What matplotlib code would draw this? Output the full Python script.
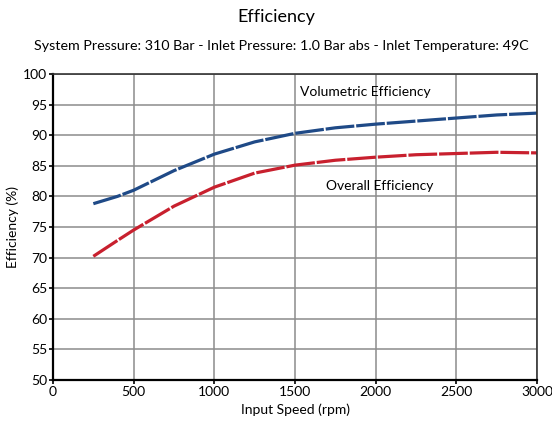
import matplotlib.pyplot as plt

plt.rcParams['font.family'] = ['Lato', 'DejaVu Sans']

speed = [250, 400, 500, 750, 1000, 1250, 1500, 1750, 2000, 2250, 2500, 2750, 3000]
volumetric = [78.8, 80.0, 81.0, 84.2, 86.9, 88.9, 90.3, 91.2, 91.8, 92.3, 92.8, 93.3, 93.6]
overall = [70.2, 72.8, 74.5, 78.4, 81.5, 83.8, 85.1, 85.9, 86.4, 86.8, 87.0, 87.2, 87.1]

fig = plt.figure(figsize=(5.52, 4.25), dpi=100)
ax = fig.add_axes([0.096, 0.106, 0.877, 0.72])

ax.plot(speed, volumetric, color='#1f4a87', lw=2.3, dashes=(9, 0.6))
ax.plot(speed, overall, color='#c8202e', lw=2.3, dashes=(9, 0.6))

ax.text(1530, 97.0, 'Volumetric Efficiency', fontsize=10, va='center')
ax.text(1690, 81.7, 'Overall Efficiency', fontsize=10, va='center')

ax.set_xlim(0, 3000)
ax.set_ylim(50, 100)
ax.set_xticks(range(0, 3001, 500))
ax.set_yticks(range(50, 101, 5))
ax.grid(True, color='#8c8c8c', lw=1.1)
ax.tick_params(labelsize=10, length=3, width=1.2, pad=1)
for s in ['left', 'bottom']:
    ax.spines[s].set_linewidth(1.6)
for s in ['top', 'right']:
    ax.spines[s].set_linewidth(1.2)
    ax.spines[s].set_color('#333333')

ax.set_xlabel('Input Speed (rpm)', fontsize=10, labelpad=4)
ax.set_ylabel('Efficiency (%)', fontsize=10, labelpad=3)

fig.text(0.5, 0.96, 'Efficiency', fontsize=13, ha='center', va='center')
fig.text(0.51, 0.892, 'System Pressure: 310 Bar - Inlet Pressure: 1.0 Bar abs - Inlet Temperature: 49C',
         fontsize=10.3, ha='center', va='center')

fig.savefig('out.png', dpi=100)
